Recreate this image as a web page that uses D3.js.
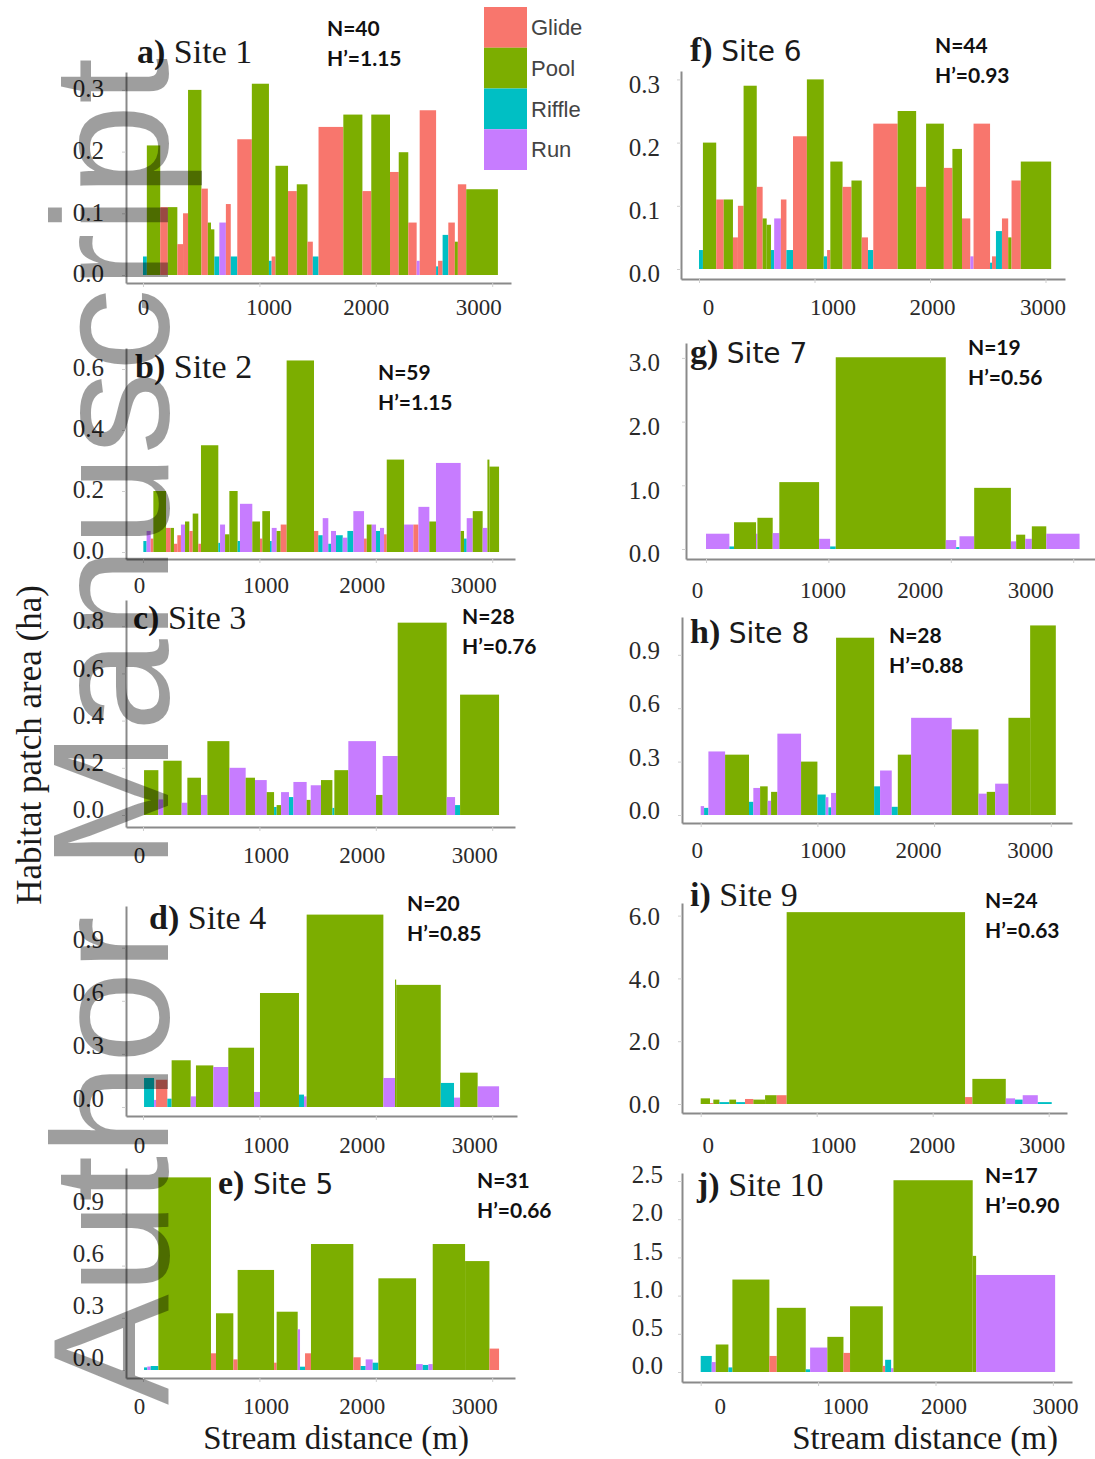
<!DOCTYPE html>
<html><head><meta charset="utf-8">
<script src="https://cdn.jsdelivr.net/npm/d3@7"></script>
<style>body{margin:0;background:#fff}svg{display:block}</style>
</head><body>
<svg id="chart" width="1095" height="1459"></svg>
<script>
// ---------- data ----------
const habitatTypes = ["Glide", "Pool", "Riffle", "Run"];
const habitatColors = ["#F8766D", "#7CAE00", "#00BFC4", "#C77CFF"];
const panelLetters = ["a)", "b)", "c)", "d)", "e)", "f)", "g)", "h)", "i)", "j)"];
const siteNames = ["Site 1", "Site 2", "Site 3", "Site 4", "Site 5", "Site 6", "Site 7", "Site 8", "Site 9", "Site 10"];
const nValues = [40, 59, 28, 20, 31, 44, 19, 28, 24, 17];
const hValues = ["1.15", "1.15", "0.76", "0.85", "0.66", "0.93", "0.56", "0.88", "0.63", "0.90"];
const distanceTicks = [0, 1000, 2000, 3000];
const areaTicks = [
  [0, 0.1, 0.2, 0.3], [0, 0.2, 0.4, 0.6], [0, 0.2, 0.4, 0.6, 0.8], [0, 0.3, 0.6, 0.9], [0, 0.3, 0.6, 0.9],
  [0, 0.1, 0.2, 0.3], [0, 1, 2, 3], [0, 0.3, 0.6, 0.9], [0, 2, 4, 6], [0, 0.5, 1, 1.5, 2, 2.5]
];

// patches: [start (m), end (m), area (ha), habitat]
const site1 = [[0,33,0.03,"Riffle"],[33,148,0.21,"Pool"],[148,213,0.11,"Glide"],[213,295,0.11,"Pool"],[295,344,0.05,"Glide"],[344,387,0.10,"Glide"],[387,502,0.30,"Pool"],[502,557,0.14,"Glide"],[557,584,0.085,"Pool"],[584,613,0.074,"Pool"],[613,656,0.03,"Riffle"],[656,712,0.085,"Run"],[712,754,0.115,"Glide"],[754,810,0.03,"Riffle"],[810,935,0.22,"Glide"],[935,1082,0.31,"Pool"],[1082,1105,0.023,"Riffle"],[1105,1138,0.03,"Glide"],[1138,1246,0.177,"Pool"],[1246,1321,0.136,"Glide"],[1321,1413,0.147,"Pool"],[1413,1459,0.054,"Glide"],[1459,1508,0.03,"Riffle"],[1508,1721,0.24,"Glide"],[1721,1885,0.26,"Pool"],[1885,1961,0.136,"Glide"],[1961,2122,0.26,"Pool"],[2122,2197,0.167,"Glide"],[2197,2279,0.199,"Pool"],[2279,2351,0.085,"Glide"],[2351,2377,0.023,"Run"],[2377,2518,0.267,"Glide"],[2518,2535,0.014,"Riffle"],[2535,2574,0.023,"Glide"],[2574,2623,0.065,"Riffle"],[2623,2679,0.085,"Glide"],[2679,2705,0.054,"Pool"],[2705,2777,0.147,"Glide"],[2777,3049,0.139,"Pool"]];
const site2 = [[3,31,0.036,"Riffle"],[31,66,0.069,"Run"],[66,89,0.044,"Glide"],[89,198,0.20,"Pool"],[198,238,0.079,"Glide"],[238,266,0.079,"Pool"],[266,295,0.027,"Glide"],[295,326,0.055,"Glide"],[326,361,0.09,"Run"],[361,398,0.10,"Pool"],[398,427,0.069,"Glide"],[427,475,0.126,"Pool"],[475,498,0.027,"Glide"],[498,647,0.35,"Pool"],[647,662,0.03,"Riffle"],[662,705,0.09,"Run"],[705,742,0.058,"Pool"],[742,813,0.20,"Pool"],[813,833,0.036,"Riffle"],[833,939,0.158,"Run"],[939,1005,0.10,"Pool"],[1005,1025,0.044,"Glide"],[1025,1091,0.134,"Pool"],[1091,1106,0.036,"Riffle"],[1106,1148,0.079,"Run"],[1148,1183,0.069,"Pool"],[1183,1234,0.09,"Glide"],[1234,1469,0.628,"Pool"],[1469,1506,0.069,"Glide"],[1506,1544,0.055,"Riffle"],[1544,1592,0.111,"Run"],[1592,1615,0.027,"Riffle"],[1615,1658,0.069,"Run"],[1658,1716,0.055,"Riffle"],[1716,1756,0.047,"Run"],[1756,1807,0.069,"Riffle"],[1807,1899,0.134,"Run"],[1899,1922,0.044,"Glide"],[1922,1965,0.09,"Pool"],[1965,2002,0.09,"Run"],[2002,2036,0.069,"Riffle"],[2036,2071,0.079,"Run"],[2071,2094,0.058,"Glide"],[2094,2243,0.303,"Pool"],[2243,2323,0.09,"Run"],[2323,2366,0.09,"Glide"],[2366,2460,0.148,"Run"],[2460,2517,0.10,"Pool"],[2517,2729,0.292,"Run"],[2729,2758,0.069,"Pool"],[2758,2781,0.044,"Riffle"],[2781,2833,0.111,"Run"],[2833,2918,0.134,"Pool"],[2918,2959,0.079,"Run"],[2959,2976,0.303,"Pool"],[2976,3059,0.28,"Pool"]];
const site3 = [[9,132,0.19,"Pool"],[132,175,0.066,"Run"],[175,332,0.23,"Pool"],[332,381,0.052,"Run"],[381,498,0.158,"Pool"],[498,553,0.085,"Run"],[553,742,0.313,"Pool"],[742,882,0.20,"Run"],[882,962,0.158,"Pool"],[962,1063,0.148,"Run"],[1063,1126,0.097,"Pool"],[1126,1148,0.034,"Riffle"],[1148,1186,0.042,"Pool"],[1186,1254,0.097,"Run"],[1254,1292,0.076,"Riffle"],[1292,1406,0.14,"Run"],[1406,1441,0.064,"Pool"],[1441,1529,0.126,"Run"],[1529,1627,0.148,"Pool"],[1627,1644,0.03,"Riffle"],[1644,1764,0.19,"Pool"],[1764,2002,0.313,"Run"],[2002,2059,0.085,"Pool"],[2059,2188,0.25,"Run"],[2188,2609,0.815,"Pool"],[2609,2681,0.076,"Run"],[2681,2724,0.042,"Riffle"],[2724,3059,0.51,"Pool"]];
const site4 = [[9,95,0.164,"Riffle"],[95,112,0.04,"Run"],[112,209,0.154,"Glide"],[209,246,0.047,"Riffle"],[246,410,0.264,"Pool"],[410,455,0.06,"Run"],[455,604,0.235,"Pool"],[604,733,0.226,"Run"],[733,954,0.335,"Pool"],[954,1005,0.085,"Run"],[1005,1340,0.644,"Pool"],[1340,1383,0.07,"Riffle"],[1383,1406,0.06,"Run"],[1406,2065,1.087,"Pool"],[2065,2165,0.164,"Run"],[2165,2175,0.72,"Pool"],[2175,2558,0.69,"Pool"],[2558,2672,0.136,"Riffle"],[2672,2724,0.053,"Run"],[2724,2875,0.194,"Pool"],[2875,3059,0.117,"Run"]];
const site5 = [[9,37,0.015,"Riffle"],[37,66,0.02,"Run"],[66,132,0.023,"Riffle"],[132,584,1.107,"Pool"],[584,627,0.096,"Glide"],[627,776,0.326,"Pool"],[776,813,0.061,"Glide"],[813,1126,0.575,"Pool"],[1126,1148,0.042,"Glide"],[1148,1329,0.335,"Pool"],[1329,1349,0.234,"Run"],[1349,1392,0.019,"Riffle"],[1392,1443,0.096,"Glide"],[1443,1807,0.724,"Pool"],[1807,1870,0.073,"Glide"],[1870,1913,0.023,"Riffle"],[1913,1973,0.061,"Run"],[1973,2022,0.042,"Riffle"],[2022,2346,0.527,"Pool"],[2346,2403,0.034,"Run"],[2403,2452,0.029,"Riffle"],[2452,2489,0.034,"Run"],[2489,2767,0.724,"Pool"],[2767,2976,0.626,"Pool"],[2976,3059,0.123,"Glide"]];
const site6 = [[0,34,0.03,"Riffle"],[34,149,0.20,"Pool"],[149,214,0.11,"Glide"],[214,294,0.11,"Pool"],[294,337,0.05,"Glide"],[337,386,0.10,"Glide"],[386,500,0.29,"Pool"],[500,551,0.13,"Glide"],[551,586,0.08,"Pool"],[586,623,0.07,"Pool"],[623,651,0.03,"Riffle"],[651,709,0.08,"Run"],[709,757,0.11,"Glide"],[757,814,0.03,"Riffle"],[814,934,0.21,"Glide"],[934,1080,0.30,"Pool"],[1080,1109,0.02,"Riffle"],[1109,1137,0.03,"Glide"],[1137,1243,0.17,"Pool"],[1243,1320,0.13,"Glide"],[1320,1409,0.14,"Pool"],[1409,1463,0.05,"Glide"],[1463,1509,0.03,"Riffle"],[1509,1720,0.23,"Glide"],[1720,1880,0.25,"Pool"],[1880,1966,0.13,"Glide"],[1966,2120,0.23,"Pool"],[2120,2194,0.16,"Glide"],[2194,2277,0.19,"Pool"],[2277,2349,0.08,"Glide"],[2349,2377,0.02,"Run"],[2377,2520,0.23,"Glide"],[2520,2537,0.01,"Riffle"],[2537,2571,0.02,"Glide"],[2571,2623,0.06,"Riffle"],[2623,2677,0.08,"Glide"],[2677,2706,0.05,"Pool"],[2706,2786,0.14,"Glide"],[2786,3049,0.17,"Pool"]];
const site7 = [[0,191,0.24,"Run"],[191,229,0.04,"Riffle"],[229,409,0.42,"Pool"],[409,420,0.24,"Run"],[420,545,0.49,"Pool"],[545,599,0.25,"Run"],[599,924,1.05,"Pool"],[924,1014,0.16,"Run"],[1014,1060,0.04,"Riffle"],[1060,1959,3.01,"Pool"],[1959,2044,0.14,"Run"],[2044,2071,0.03,"Riffle"],[2071,2191,0.20,"Run"],[2191,2491,0.96,"Pool"],[2491,2534,0.12,"Run"],[2534,2608,0.225,"Pool"],[2608,2662,0.16,"Run"],[2662,2780,0.356,"Pool"],[2780,3052,0.24,"Run"]];
const site8 = [[0,29,0.05,"Run"],[29,66,0.04,"Riffle"],[66,209,0.357,"Run"],[209,414,0.339,"Pool"],[414,451,0.074,"Riffle"],[451,509,0.152,"Run"],[509,574,0.161,"Pool"],[574,603,0.08,"Run"],[603,657,0.13,"Pool"],[657,860,0.457,"Run"],[860,1000,0.30,"Pool"],[1000,1071,0.115,"Riffle"],[1071,1094,0.10,"Run"],[1094,1117,0.043,"Riffle"],[1117,1160,0.124,"Run"],[1160,1486,0.996,"Pool"],[1486,1537,0.161,"Riffle"],[1537,1637,0.25,"Run"],[1637,1689,0.046,"Riffle"],[1689,1803,0.339,"Pool"],[1803,2151,0.546,"Run"],[2151,2380,0.481,"Pool"],[2380,2451,0.12,"Run"],[2451,2523,0.13,"Pool"],[2523,2637,0.176,"Run"],[2637,2823,0.546,"Pool"],[2823,3043,1.065,"Pool"]];
const site9 = [[0,80,0.18,"Pool"],[80,109,0.03,"Glide"],[109,161,0.14,"Pool"],[161,247,0.06,"Riffle"],[247,305,0.14,"Pool"],[305,382,0.06,"Riffle"],[382,454,0.16,"Glide"],[454,555,0.14,"Pool"],[555,655,0.28,"Pool"],[655,741,0.28,"Glide"],[741,2279,6.11,"Pool"],[2279,2342,0.22,"Glide"],[2342,2630,0.80,"Pool"],[2630,2710,0.18,"Run"],[2710,2776,0.14,"Riffle"],[2776,2906,0.28,"Run"],[2906,3026,0.06,"Riffle"]];
const site10 = [[0,94,0.21,"Riffle"],[94,128,0.13,"Run"],[128,236,0.36,"Pool"],[236,270,0.06,"Riffle"],[270,585,1.21,"Pool"],[585,648,0.21,"Glide"],[648,895,0.84,"Pool"],[895,932,0.035,"Riffle"],[932,1079,0.32,"Run"],[1079,1216,0.46,"Pool"],[1216,1272,0.25,"Glide"],[1272,1551,0.86,"Pool"],[1551,1571,0.08,"Glide"],[1571,1622,0.16,"Riffle"],[1622,1642,0.05,"Run"],[1642,2317,2.51,"Pool"],[2317,2346,1.52,"Pool"],[2346,3019,1.27,"Run"]];
const sites = [site1, site2, site3, site4, site5, site6, site7, site8, site9, site10];

// ---------- layout (pixel placement of each panel) ----------
const layouts = [
 {x0:143,k:116.4,yBase:275,unit:617,axX:126,axTop:72,axY:283,axRight:511,yLabX:104,yDy:-2,xDx:[0,9,-10,-14],xOff:24,tx:137,ty:63,serif:true,sx:327,sy:36},
 {x0:143,k:116.4,yBase:552,unit:305,axX:126,axTop:348,axY:559,axRight:515,yLabX:104,yDy:-2,xDx:[-4,6,-14,-19],xOff:26,tx:135,ty:378,serif:true,sx:378,sy:380},
 {x0:143,k:116.4,yBase:815,unit:236,axX:126,axTop:600,axY:827,axRight:515,yLabX:104,yDy:-6,xDx:[-4,6,-14,-18],xOff:28,tx:133,ty:629,serif:true,sx:462,sy:624},
 {x0:143,k:116.4,yBase:1107,unit:177,axX:126,axTop:906,axY:1116,axRight:517,yLabX:104,yDy:-9,xDx:[-4,6,-14,-18],xOff:29,tx:149,ty:929,serif:true,sx:407,sy:911},
 {x0:143,k:116.4,yBase:1370,unit:174,axX:126,axTop:1168,axY:1378,axRight:515,yLabX:104,yDy:-13,xDx:[-4,6,-14,-18],xOff:28,tx:218,ty:1194,serif:false,sx:477,sy:1188},
 {x0:699,k:115.5,yBase:269,unit:632,axX:681,axTop:71,axY:279,axRight:1065,yLabX:660,yDy:4,xDx:[9,18,2,-3],xOff:28,tx:690,ty:61,serif:false,sx:935,sy:53},
 {x0:706,k:122.4,yBase:549,unit:63.7,axX:686,axTop:343,axY:559,axRight:1095,yLabX:660,yDy:4,xDx:[-9,-6,-31,-43],xOff:31,tx:690,ty:363,serif:false,sx:968,sy:355},
 {x0:700.7,k:116.7,yBase:815,unit:178,axX:682,axTop:617,axY:823,axRight:1072,yLabX:660,yDy:-5,xDx:[-4,5,-16,-21],xOff:27,tx:690,ty:643,serif:false,sx:889,sy:643},
 {x0:700.7,k:116,yBase:1104,unit:31.4,axX:682,axTop:903,axY:1113,axRight:1067,yLabX:660,yDy:0,xDx:[7,16,-1,-7],xOff:32,tx:690,ty:906,serif:true,sx:985,sy:908},
 {x0:700.7,k:117.4,yBase:1372,unit:76.4,axX:682,axTop:1173,axY:1382,axRight:1072,yLabX:663,yDy:-7,xDx:[19,27,8,2],xOff:24,tx:697,ty:1196,serif:true,sx:985,sy:1183}
];

const SERIF = "'Liberation Serif','Times New Roman',serif";
const SANS = "'DejaVu Sans',sans-serif";
const svg = d3.select("#chart");
svg.append("rect").attr("width", 1095).attr("height", 1459).attr("fill", "#fff");
const color = d3.scaleOrdinal().domain(habitatTypes).range(habitatColors);
const fmt = d3.format(".1f");

sites.forEach((data, i) => {
  const L = layouts[i];
  const x = d3.scaleLinear().domain([0, 1000]).range([L.x0, L.x0 + L.k]);
  const y = d3.scaleLinear().domain([0, 1]).range([L.yBase, L.yBase - L.unit]);
  const g = svg.append("g").attr("class", "panel");

  g.append("g").selectAll("rect").data(data).join("rect")
    .attr("x", d => x(d[0]))
    .attr("width", d => x(d[1]) - x(d[0]))
    .attr("y", d => y(d[2]))
    .attr("height", d => y(0) - y(d[2]))
    .attr("fill", d => color(d[3]));

  // axes
  const yAx = y.copy().domain([y.invert(L.axY), y.invert(L.axTop)]).range([L.axY, L.axTop]);
  const xAx = x.copy().domain([x.invert(L.axX), x.invert(L.axRight)]).range([L.axX, L.axRight]);

  const ya = g.append("g").attr("transform", `translate(${L.axX},0)`)
    .call(d3.axisLeft(yAx).tickValues(areaTicks[i]).tickSize(4).tickSizeOuter(0).tickFormat(fmt));
  const xa = g.append("g").attr("transform", `translate(0,${L.axY})`)
    .call(d3.axisBottom(xAx).tickValues(distanceTicks).tickSize(4).tickSizeOuter(0).tickFormat(d3.format("d")));
  [ya, xa].forEach(a => {
    a.select(".domain").attr("stroke", "#8a8a8a").attr("stroke-width", 2);
    a.selectAll(".tick line").attr("stroke", "#cfcfcf");
    a.selectAll("text").attr("font-family", SERIF).attr("fill", "#2a2a2a");
  });
  ya.selectAll("text").attr("font-size", 25).attr("x", L.yLabX - L.axX).attr("y", L.yDy).attr("dy", "0.35em");
  xa.selectAll("text").attr("font-size", 23).attr("x", (d, j) => L.xDx[j]).attr("y", L.xOff).attr("dy", "0.35em");

  // title
  const t = g.append("text").attr("x", L.tx).attr("y", L.ty).attr("fill", "#1a1a1a");
  t.append("tspan").attr("font-family", SERIF).attr("font-weight", "bold").attr("font-size", 34).text(panelLetters[i] + " ");
  t.append("tspan").attr("font-family", L.serif ? SERIF : SANS).attr("font-size", L.serif ? 34 : 28).text(siteNames[i]);

  // N and H'
  const s = g.append("g").attr("font-family", "Lato, 'Open Sans', sans-serif").attr("font-weight", "bold").attr("font-size", 21).attr("fill", "#111");
  s.append("text").attr("x", L.sx).attr("y", L.sy).text("N=" + nValues[i]);
  s.append("text").attr("x", L.sx).attr("y", L.sy + 30).text("H\u2019=" + hValues[i]);
});

// legend
const legend = svg.append("g").attr("transform", "translate(484,7)");
habitatTypes.forEach((h, i) => {
  legend.append("rect").attr("x", 0).attr("y", i * 40.75).attr("width", 43).attr("height", 40.75).attr("fill", color(h));
  legend.append("text").attr("x", 47).attr("y", i * 40.75 + 20.4).attr("dy", "0.35em")
    .attr("font-family", "'Liberation Sans',Arial,sans-serif").attr("font-size", 22).attr("fill", "#444").text(h);
});

// axis titles
svg.append("text").attr("transform", "translate(41,745) rotate(-90)").attr("text-anchor", "middle")
  .attr("font-family", SERIF).attr("font-size", 35).attr("fill", "#1a1a1a").text("Habitat patch area (ha)");
svg.append("text").attr("x", 336).attr("y", 1449).attr("text-anchor", "middle")
  .attr("font-family", SERIF).attr("font-size", 33).attr("fill", "#1a1a1a").text("Stream distance (m)");
svg.append("text").attr("x", 925).attr("y", 1449).attr("text-anchor", "middle")
  .attr("font-family", SERIF).attr("font-size", 33).attr("fill", "#1a1a1a").text("Stream distance (m)");

// watermark
svg.append("text").attr("transform", "translate(168,1405) rotate(-90)")
  .attr("font-family", "'Liberation Sans',Arial,sans-serif").attr("font-size", 166)
  .attr("fill", "#000").attr("fill-opacity", 0.38).text("Author Manuscript");
</script>
</body></html>
